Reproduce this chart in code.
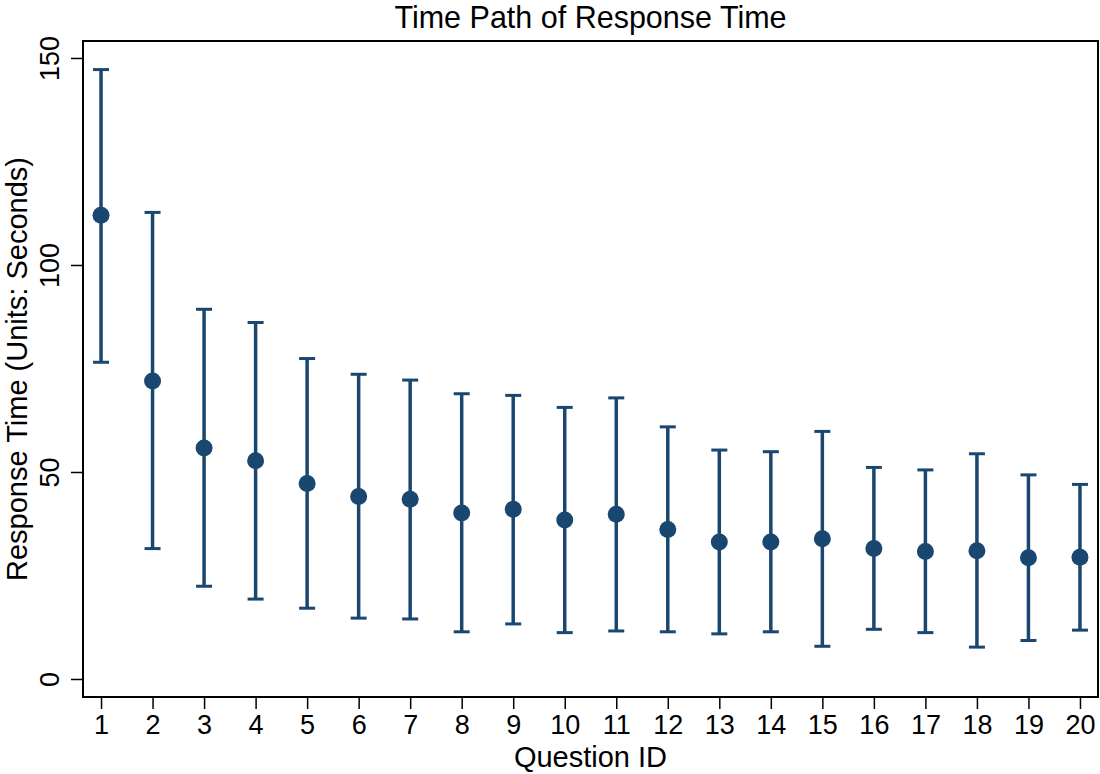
<!DOCTYPE html>
<html>
<head>
<meta charset="utf-8">
<script src="https://cdn.jsdelivr.net/npm/d3@7"></script>
<style>
  body { margin: 0; background: #fff; }
  text { font-family: 'Liberation Sans', Arial, Helvetica, sans-serif; fill: #000; }
</style>
</head>
<body>
<div id="chart"></div>
<script>
// question ids and response time stats (seconds)
const questions = d3.range(1, 21)
const means = [112.0, 72.0, 55.8, 52.7, 47.2, 44.1, 43.4, 40.1, 41.0, 38.4,
  39.8, 36.1, 33.1, 33.1, 33.9, 31.5, 30.8, 31.0, 29.3, 29.4]
const upper = [147.2, 112.7, 89.3, 86.1, 77.4, 73.6, 72.2, 68.9, 68.5, 65.6,
  67.9, 60.9, 55.3, 54.9, 59.8, 51.1, 50.5, 54.4, 49.3, 47.0]
const lower = [76.5, 31.5, 22.4, 19.3, 17.1, 14.7, 14.5, 11.4, 13.3, 11.2,
  11.6, 11.4, 10.9, 11.4, 7.9, 12.0, 11.2, 7.7, 9.3, 11.8]
const yTicks = [0, 50, 100, 150]

const W = 1100
const H = 774
const margin = { top: 41, left: 83, right: 2, bottom: 77 }
const width = W - margin.left - margin.right
const height = H - margin.top - margin.bottom

const navy = '#1a476f'

const datapoints = questions.map((q, i) => ({
  q: q,
  mean: means[i],
  hi: upper[i],
  lo: lower[i]
}))

const svg = d3
  .select('#chart')
  .append('svg')
  .attr('width', W)
  .attr('height', H)

const g = svg
  .append('g')
  .attr('transform', 'translate(' + margin.left + ',' + margin.top + ')')

const xScale = d3
  .scaleLinear()
  .domain([0.65, 20.35])
  .range([0, width])

const yScale = d3
  .scaleLinear()
  .domain([-4.35, 154.1])
  .range([height, 0])

// axes
const xAxis = d3
  .axisBottom(xScale)
  .tickValues(questions)
  .tickFormat(d3.format('d'))
  .tickSize(12)
  .tickPadding(6)

const yAxis = d3
  .axisLeft(yScale)
  .tickValues(yTicks)
  .tickSize(12)

const gx = g
  .append('g')
  .attr('transform', `translate(0,${height})`)
  .call(xAxis)
gx.select('.domain').remove()
gx.selectAll('line').attr('stroke', '#000').attr('stroke-width', 1.5)
gx.selectAll('text')
  .attr('font-size', 27)
  .attr('fill', '#000')

const gy = g.append('g').call(yAxis)
gy.select('.domain').remove()
gy.selectAll('line').attr('stroke', '#000').attr('stroke-width', 1.5)
gy.selectAll('text')
  .attr('font-size', 27)
  .attr('fill', '#000')
  .attr('text-anchor', 'middle')
  .attr('dy', 0)
  .attr('x', 0)
  .attr('transform', 'translate(-24,0) rotate(-90)')

// error bars
const capHalf = 8
const bars = g
  .selectAll('.bar')
  .data(datapoints)
  .enter()
  .append('g')
  .attr('class', 'bar')

bars
  .append('line')
  .attr('x1', d => xScale(d.q))
  .attr('x2', d => xScale(d.q))
  .attr('y1', d => yScale(d.hi))
  .attr('y2', d => yScale(d.lo))
  .attr('stroke', navy)
  .attr('stroke-width', 3.5)

bars
  .selectAll('.cap')
  .data(d => [{ q: d.q, v: d.hi }, { q: d.q, v: d.lo }])
  .enter()
  .append('line')
  .attr('class', 'cap')
  .attr('x1', d => xScale(d.q) - capHalf)
  .attr('x2', d => xScale(d.q) + capHalf)
  .attr('y1', d => yScale(d.v))
  .attr('y2', d => yScale(d.v))
  .attr('stroke', navy)
  .attr('stroke-width', 3)

g.selectAll('.dot')
  .data(datapoints)
  .enter()
  .append('circle')
  .attr('class', 'dot')
  .attr('cx', d => xScale(d.q))
  .attr('cy', d => yScale(d.mean))
  .attr('r', 8.5)
  .attr('fill', navy)

// plot frame
g.append('rect')
  .attr('x', 0)
  .attr('y', 0)
  .attr('width', width)
  .attr('height', height)
  .attr('fill', 'none')
  .attr('stroke', '#000')
  .attr('stroke-width', 2)

// titles
svg
  .append('text')
  .attr('x', margin.left + width / 2)
  .attr('y', 28)
  .attr('text-anchor', 'middle')
  .attr('font-size', 30.5)
  .text('Time Path of Response Time')

svg
  .append('text')
  .attr('x', margin.left + width / 2)
  .attr('y', 767)
  .attr('text-anchor', 'middle')
  .attr('font-size', 29)
  .text('Question ID')

svg
  .append('text')
  .attr('text-anchor', 'middle')
  .attr('font-size', 29)
  .attr('transform', `translate(27,${margin.top + height / 2}) rotate(-90)`)
  .text('Response Time (Units: Seconds)')
</script>
</body>
</html>
